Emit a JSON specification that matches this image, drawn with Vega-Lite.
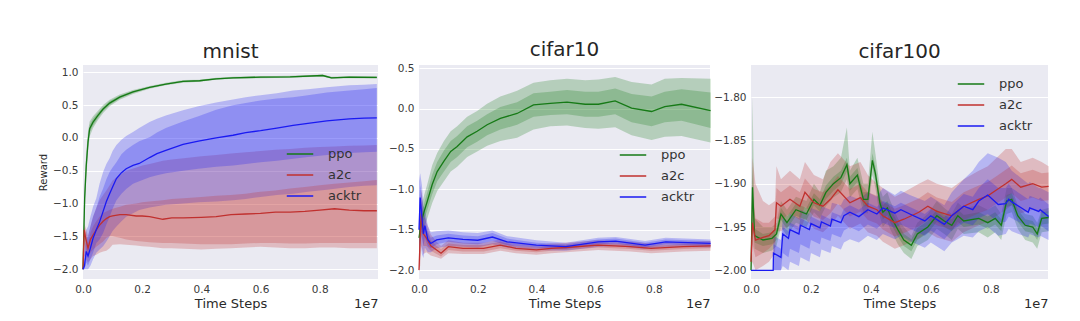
{
"$schema": "https://vega.github.io/schema/vega-lite/v6.json",
"padding": {"left": 38, "top": 40, "right": 0, "bottom": 0},
"config": {
  "font": "DejaVu Sans",
  "view": {"fill": "#EAEAF2", "stroke": null},
  "axis": {"domain": false, "ticks": false, "labelFlush": false, "gridColor": "#ffffff", "gridWidth": 1, "gridOpacity": 1, "labelFontSize": 10.5, "labelColor": "#3a3a3a", "labelPadding": 5, "titleFontWeight": "normal", "titleColor": "#2a2a2a", "titleFontSize": 13, "labelFont": "DejaVu Sans", "titleFont": "DejaVu Sans"},
  "title": {"fontSize": 20, "fontWeight": "normal", "color": "#262626", "baseline": "alphabetic", "offset": 3, "font": "DejaVu Sans"},
  "legend": {"symbolType": "stroke", "symbolStrokeWidth": 1.5, "symbolSize": 700, "labelFontSize": 13, "labelColor": "#333333", "labelFont": "DejaVu Sans", "rowPadding": -7, "labelOffset": 14, "padding": 0, "title": null}
},
"datasets": {"d": [
{"p":"m","a":"ppo","x":0,"y":-2,"l1":-2,"h1":-2,"l2":-2,"h2":-2},
{"p":"m","a":"ppo","x":0.003,"y":-1.4,"l1":-1.55,"h1":-1.25,"l2":-1.7,"h2":-1.1},
{"p":"m","a":"ppo","x":0.0056,"y":-0.92,"l1":-1.05,"h1":-0.8,"l2":-1.2,"h2":-0.65},
{"p":"m","a":"ppo","x":0.011,"y":-0.42,"l1":-0.52,"h1":-0.32,"l2":-0.62,"h2":-0.22},
{"p":"m","a":"ppo","x":0.017,"y":-0.06,"l1":-0.14,"h1":0.02,"l2":-0.22,"h2":0.1},
{"p":"m","a":"ppo","x":0.0225,"y":0.14,"l1":0.08,"h1":0.2,"l2":0.02,"h2":0.25},
{"p":"m","a":"ppo","x":0.034,"y":0.24,"l1":0.19,"h1":0.29,"l2":0.15,"h2":0.33},
{"p":"m","a":"ppo","x":0.05,"y":0.34,"l1":0.3,"h1":0.38,"l2":0.27,"h2":0.41},
{"p":"m","a":"ppo","x":0.068,"y":0.44,"l1":0.41,"h1":0.47,"l2":0.38,"h2":0.5},
{"p":"m","a":"ppo","x":0.09,"y":0.53,"l1":0.5,"h1":0.56,"l2":0.48,"h2":0.58},
{"p":"m","a":"ppo","x":0.124,"y":0.62,"l1":0.6,"h1":0.64,"l2":0.58,"h2":0.66},
{"p":"m","a":"ppo","x":0.169,"y":0.7,"l1":0.685,"h1":0.715,"l2":0.67,"h2":0.73},
{"p":"m","a":"ppo","x":0.225,"y":0.77,"l1":0.76,"h1":0.78,"l2":0.75,"h2":0.79},
{"p":"m","a":"ppo","x":0.28,"y":0.82,"l1":0.81,"h1":0.83,"l2":0.8,"h2":0.84},
{"p":"m","a":"ppo","x":0.338,"y":0.86,"l1":0.85,"h1":0.87,"l2":0.84,"h2":0.88},
{"p":"m","a":"ppo","x":0.394,"y":0.87,"l1":0.86,"h1":0.88,"l2":0.855,"h2":0.885},
{"p":"m","a":"ppo","x":0.45,"y":0.9,"l1":0.89,"h1":0.91,"l2":0.885,"h2":0.915},
{"p":"m","a":"ppo","x":0.507,"y":0.915,"l1":0.905,"h1":0.925,"l2":0.9,"h2":0.93},
{"p":"m","a":"ppo","x":0.6,"y":0.925,"l1":0.915,"h1":0.935,"l2":0.91,"h2":0.94},
{"p":"m","a":"ppo","x":0.7,"y":0.93,"l1":0.92,"h1":0.94,"l2":0.915,"h2":0.945},
{"p":"m","a":"ppo","x":0.81,"y":0.95,"l1":0.94,"h1":0.96,"l2":0.935,"h2":0.965},
{"p":"m","a":"ppo","x":0.84,"y":0.915,"l1":0.905,"h1":0.925,"l2":0.9,"h2":0.93},
{"p":"m","a":"ppo","x":0.9,"y":0.925,"l1":0.915,"h1":0.935,"l2":0.91,"h2":0.94},
{"p":"m","a":"ppo","x":0.993,"y":0.92,"l1":0.91,"h1":0.93,"l2":0.905,"h2":0.935},

{"p":"m","a":"a2c","x":0,"y":-2,"l1":-2,"h1":-2,"l2":-2,"h2":-2},
{"p":"m","a":"a2c","x":0.004,"y":-1.4,"l1":-1.6,"h1":-1.35,"l2":-1.8,"h2":-1.3},
{"p":"m","a":"a2c","x":0.01,"y":-1.55,"l1":-1.7,"h1":-1.45,"l2":-1.85,"h2":-1.38},
{"p":"m","a":"a2c","x":0.017,"y":-1.68,"l1":-1.8,"h1":-1.6,"l2":-1.9,"h2":-1.5},
{"p":"m","a":"a2c","x":0.025,"y":-1.55,"l1":-1.75,"h1":-1.45,"l2":-1.85,"h2":-1.35},
{"p":"m","a":"a2c","x":0.034,"y":-1.48,"l1":-1.7,"h1":-1.35,"l2":-1.8,"h2":-1.2},
{"p":"m","a":"a2c","x":0.045,"y":-1.4,"l1":-1.66,"h1":-1.27,"l2":-1.78,"h2":-1.07},
{"p":"m","a":"a2c","x":0.056,"y":-1.33,"l1":-1.62,"h1":-1.2,"l2":-1.75,"h2":-0.95},
{"p":"m","a":"a2c","x":0.068,"y":-1.27,"l1":-1.58,"h1":-1.15,"l2":-1.73,"h2":-0.87},
{"p":"m","a":"a2c","x":0.079,"y":-1.23,"l1":-1.52,"h1":-1.12,"l2":-1.72,"h2":-0.8},
{"p":"m","a":"a2c","x":0.09,"y":-1.2,"l1":-1.5,"h1":-1.1,"l2":-1.68,"h2":-0.72},
{"p":"m","a":"a2c","x":0.1,"y":-1.19,"l1":-1.5,"h1":-1.08,"l2":-1.63,"h2":-0.65},
{"p":"m","a":"a2c","x":0.125,"y":-1.17,"l1":-1.52,"h1":-1.05,"l2":-1.62,"h2":-0.56},
{"p":"m","a":"a2c","x":0.146,"y":-1.17,"l1":-1.55,"h1":-1.02,"l2":-1.63,"h2":-0.5},
{"p":"m","a":"a2c","x":0.18,"y":-1.19,"l1":-1.57,"h1":-1.0,"l2":-1.64,"h2":-0.45},
{"p":"m","a":"a2c","x":0.2,"y":-1.19,"l1":-1.58,"h1":-0.98,"l2":-1.65,"h2":-0.42},
{"p":"m","a":"a2c","x":0.225,"y":-1.2,"l1":-1.59,"h1":-0.97,"l2":-1.66,"h2":-0.4},
{"p":"m","a":"a2c","x":0.27,"y":-1.24,"l1":-1.6,"h1":-0.95,"l2":-1.68,"h2":-0.35},
{"p":"m","a":"a2c","x":0.3,"y":-1.22,"l1":-1.6,"h1":-0.93,"l2":-1.68,"h2":-0.33},
{"p":"m","a":"a2c","x":0.34,"y":-1.22,"l1":-1.61,"h1":-0.92,"l2":-1.69,"h2":-0.31},
{"p":"m","a":"a2c","x":0.4,"y":-1.21,"l1":-1.62,"h1":-0.9,"l2":-1.7,"h2":-0.28},
{"p":"m","a":"a2c","x":0.45,"y":-1.2,"l1":-1.62,"h1":-0.88,"l2":-1.69,"h2":-0.26},
{"p":"m","a":"a2c","x":0.5,"y":-1.17,"l1":-1.62,"h1":-0.87,"l2":-1.68,"h2":-0.24},
{"p":"m","a":"a2c","x":0.55,"y":-1.16,"l1":-1.61,"h1":-0.85,"l2":-1.67,"h2":-0.22},
{"p":"m","a":"a2c","x":0.6,"y":-1.15,"l1":-1.6,"h1":-0.82,"l2":-1.66,"h2":-0.2},
{"p":"m","a":"a2c","x":0.65,"y":-1.13,"l1":-1.6,"h1":-0.8,"l2":-1.67,"h2":-0.18},
{"p":"m","a":"a2c","x":0.7,"y":-1.13,"l1":-1.61,"h1":-0.77,"l2":-1.68,"h2":-0.17},
{"p":"m","a":"a2c","x":0.75,"y":-1.12,"l1":-1.61,"h1":-0.75,"l2":-1.68,"h2":-0.15},
{"p":"m","a":"a2c","x":0.8,"y":-1.1,"l1":-1.6,"h1":-0.72,"l2":-1.67,"h2":-0.14},
{"p":"m","a":"a2c","x":0.85,"y":-1.08,"l1":-1.6,"h1":-0.7,"l2":-1.67,"h2":-0.13},
{"p":"m","a":"a2c","x":0.9,"y":-1.1,"l1":-1.6,"h1":-0.68,"l2":-1.68,"h2":-0.12},
{"p":"m","a":"a2c","x":0.95,"y":-1.11,"l1":-1.6,"h1":-0.66,"l2":-1.68,"h2":-0.115},
{"p":"m","a":"a2c","x":0.993,"y":-1.11,"l1":-1.6,"h1":-0.64,"l2":-1.68,"h2":-0.11},

{"p":"m","a":"acktr","x":0,"y":-2,"l1":-2,"h1":-2,"l2":-2,"h2":-2},
{"p":"m","a":"acktr","x":0.005,"y":-1.95,"l1":-2,"h1":-1.85,"l2":-2,"h2":-1.7},
{"p":"m","a":"acktr","x":0.011,"y":-1.73,"l1":-1.9,"h1":-1.55,"l2":-2,"h2":-1.4},
{"p":"m","a":"acktr","x":0.017,"y":-1.8,"l1":-1.95,"h1":-1.5,"l2":-2,"h2":-1.35},
{"p":"m","a":"acktr","x":0.025,"y":-1.68,"l1":-1.85,"h1":-1.35,"l2":-1.95,"h2":-1.2},
{"p":"m","a":"acktr","x":0.034,"y":-1.53,"l1":-1.75,"h1":-1.2,"l2":-1.85,"h2":-1.05},
{"p":"m","a":"acktr","x":0.045,"y":-1.4,"l1":-1.6,"h1":-1.07,"l2":-1.75,"h2":-0.92},
{"p":"m","a":"acktr","x":0.056,"y":-1.28,"l1":-1.55,"h1":-0.9,"l2":-1.7,"h2":-0.7},
{"p":"m","a":"acktr","x":0.068,"y":-1.12,"l1":-1.45,"h1":-0.77,"l2":-1.65,"h2":-0.52},
{"p":"m","a":"acktr","x":0.079,"y":-0.97,"l1":-1.32,"h1":-0.63,"l2":-1.58,"h2":-0.4},
{"p":"m","a":"acktr","x":0.09,"y":-0.85,"l1":-1.2,"h1":-0.52,"l2":-1.5,"h2":-0.31},
{"p":"m","a":"acktr","x":0.1,"y":-0.75,"l1":-1.08,"h1":-0.45,"l2":-1.42,"h2":-0.2},
{"p":"m","a":"acktr","x":0.113,"y":-0.62,"l1":-0.95,"h1":-0.37,"l2":-1.35,"h2":-0.11},
{"p":"m","a":"acktr","x":0.13,"y":-0.53,"l1":-0.85,"h1":-0.25,"l2":-1.27,"h2":-0.03},
{"p":"m","a":"acktr","x":0.146,"y":-0.47,"l1":-0.78,"h1":-0.18,"l2":-1.2,"h2":0.03},
{"p":"m","a":"acktr","x":0.169,"y":-0.42,"l1":-0.7,"h1":-0.11,"l2":-1.15,"h2":0.09},
{"p":"m","a":"acktr","x":0.19,"y":-0.39,"l1":-0.66,"h1":-0.05,"l2":-1.1,"h2":0.15},
{"p":"m","a":"acktr","x":0.225,"y":-0.3,"l1":-0.6,"h1":0.01,"l2":-1.06,"h2":0.24},
{"p":"m","a":"acktr","x":0.25,"y":-0.24,"l1":-0.57,"h1":0.08,"l2":-1.04,"h2":0.29},
{"p":"m","a":"acktr","x":0.28,"y":-0.19,"l1":-0.54,"h1":0.15,"l2":-1.02,"h2":0.34},
{"p":"m","a":"acktr","x":0.338,"y":-0.1,"l1":-0.5,"h1":0.25,"l2":-1.0,"h2":0.42},
{"p":"m","a":"acktr","x":0.39,"y":-0.05,"l1":-0.47,"h1":0.33,"l2":-0.98,"h2":0.48},
{"p":"m","a":"acktr","x":0.45,"y":0.0,"l1":-0.44,"h1":0.43,"l2":-0.97,"h2":0.54},
{"p":"m","a":"acktr","x":0.507,"y":0.04,"l1":-0.42,"h1":0.495,"l2":-0.95,"h2":0.585},
{"p":"m","a":"acktr","x":0.55,"y":0.08,"l1":-0.4,"h1":0.53,"l2":-0.93,"h2":0.62},
{"p":"m","a":"acktr","x":0.6,"y":0.11,"l1":-0.37,"h1":0.57,"l2":-0.9,"h2":0.65},
{"p":"m","a":"acktr","x":0.655,"y":0.15,"l1":-0.35,"h1":0.6,"l2":-0.87,"h2":0.68},
{"p":"m","a":"acktr","x":0.71,"y":0.19,"l1":-0.32,"h1":0.62,"l2":-0.85,"h2":0.72},
{"p":"m","a":"acktr","x":0.76,"y":0.22,"l1":-0.29,"h1":0.65,"l2":-0.82,"h2":0.74},
{"p":"m","a":"acktr","x":0.824,"y":0.26,"l1":-0.26,"h1":0.69,"l2":-0.79,"h2":0.77},
{"p":"m","a":"acktr","x":0.9,"y":0.29,"l1":-0.23,"h1":0.72,"l2":-0.75,"h2":0.8},
{"p":"m","a":"acktr","x":0.95,"y":0.3,"l1":-0.22,"h1":0.74,"l2":-0.73,"h2":0.81},
{"p":"m","a":"acktr","x":0.993,"y":0.305,"l1":-0.21,"h1":0.76,"l2":-0.72,"h2":0.82},

{"p":"c10","a":"ppo","x":0,"y":-1.6,"l1":-1.7,"h1":-1.5,"l2":-1.8,"h2":-1.4},
{"p":"c10","a":"ppo","x":0.008,"y":-1.4,"l1":-1.5,"h1":-1.3,"l2":-1.6,"h2":-1.2},
{"p":"c10","a":"ppo","x":0.017,"y":-1.28,"l1":-1.38,"h1":-1.18,"l2":-1.48,"h2":-1.08},
{"p":"c10","a":"ppo","x":0.028,"y":-1.15,"l1":-1.26,"h1":-1.04,"l2":-1.36,"h2":-0.94},
{"p":"c10","a":"ppo","x":0.045,"y":-0.94,"l1":-1.06,"h1":-0.82,"l2":-1.17,"h2":-0.7},
{"p":"c10","a":"ppo","x":0.062,"y":-0.78,"l1":-0.9,"h1":-0.66,"l2":-1.02,"h2":-0.55},
{"p":"c10","a":"ppo","x":0.085,"y":-0.65,"l1":-0.78,"h1":-0.52,"l2":-0.9,"h2":-0.4},
{"p":"c10","a":"ppo","x":0.108,"y":-0.53,"l1":-0.66,"h1":-0.4,"l2":-0.78,"h2":-0.28},
{"p":"c10","a":"ppo","x":0.13,"y":-0.47,"l1":-0.6,"h1":-0.34,"l2":-0.72,"h2":-0.22},
{"p":"c10","a":"ppo","x":0.164,"y":-0.35,"l1":-0.48,"h1":-0.22,"l2":-0.6,"h2":-0.1},
{"p":"c10","a":"ppo","x":0.198,"y":-0.28,"l1":-0.41,"h1":-0.15,"l2":-0.53,"h2":-0.03},
{"p":"c10","a":"ppo","x":0.232,"y":-0.2,"l1":-0.33,"h1":-0.07,"l2":-0.46,"h2":0.06},
{"p":"c10","a":"ppo","x":0.277,"y":-0.12,"l1":-0.26,"h1":0.02,"l2":-0.4,"h2":0.15},
{"p":"c10","a":"ppo","x":0.334,"y":-0.06,"l1":-0.2,"h1":0.08,"l2":-0.36,"h2":0.22},
{"p":"c10","a":"ppo","x":0.39,"y":0.046,"l1":-0.1,"h1":0.19,"l2":-0.26,"h2":0.32},
{"p":"c10","a":"ppo","x":0.447,"y":0.066,"l1":-0.08,"h1":0.21,"l2":-0.22,"h2":0.35},
{"p":"c10","a":"ppo","x":0.504,"y":0.08,"l1":-0.07,"h1":0.23,"l2":-0.21,"h2":0.37},
{"p":"c10","a":"ppo","x":0.566,"y":0.054,"l1":-0.1,"h1":0.21,"l2":-0.24,"h2":0.35},
{"p":"c10","a":"ppo","x":0.611,"y":0.054,"l1":-0.1,"h1":0.21,"l2":-0.25,"h2":0.36},
{"p":"c10","a":"ppo","x":0.668,"y":0.095,"l1":-0.07,"h1":0.25,"l2":-0.23,"h2":0.39},
{"p":"c10","a":"ppo","x":0.724,"y":0.005,"l1":-0.17,"h1":0.18,"l2":-0.33,"h2":0.33},
{"p":"c10","a":"ppo","x":0.792,"y":-0.036,"l1":-0.22,"h1":0.15,"l2":-0.39,"h2":0.3},
{"p":"c10","a":"ppo","x":0.837,"y":0.025,"l1":-0.17,"h1":0.21,"l2":-0.35,"h2":0.37},
{"p":"c10","a":"ppo","x":0.894,"y":0.054,"l1":-0.15,"h1":0.24,"l2":-0.34,"h2":0.38},
{"p":"c10","a":"ppo","x":0.993,"y":-0.024,"l1":-0.24,"h1":0.2,"l2":-0.42,"h2":0.37},

{"p":"c10","a":"a2c","x":0,"y":-2,"l1":-2,"h1":-1.7,"l2":-2,"h2":-1.5},
{"p":"c10","a":"a2c","x":0.004,"y":-1.6,"l1":-1.8,"h1":-1.4,"l2":-1.95,"h2":-1.2},
{"p":"c10","a":"a2c","x":0.008,"y":-1.3,"l1":-1.5,"h1":-1.15,"l2":-1.7,"h2":-1.0},
{"p":"c10","a":"a2c","x":0.015,"y":-1.55,"l1":-1.7,"h1":-1.4,"l2":-1.8,"h2":-1.25},
{"p":"c10","a":"a2c","x":0.025,"y":-1.6,"l1":-1.7,"h1":-1.5,"l2":-1.78,"h2":-1.4},
{"p":"c10","a":"a2c","x":0.04,"y":-1.7,"l1":-1.76,"h1":-1.63,"l2":-1.82,"h2":-1.56},
{"p":"c10","a":"a2c","x":0.06,"y":-1.75,"l1":-1.8,"h1":-1.7,"l2":-1.84,"h2":-1.65},
{"p":"c10","a":"a2c","x":0.075,"y":-1.79,"l1":-1.83,"h1":-1.74,"l2":-1.86,"h2":-1.7},
{"p":"c10","a":"a2c","x":0.1,"y":-1.71,"l1":-1.75,"h1":-1.67,"l2":-1.79,"h2":-1.63},
{"p":"c10","a":"a2c","x":0.15,"y":-1.73,"l1":-1.77,"h1":-1.69,"l2":-1.8,"h2":-1.66},
{"p":"c10","a":"a2c","x":0.22,"y":-1.73,"l1":-1.77,"h1":-1.69,"l2":-1.8,"h2":-1.66},
{"p":"c10","a":"a2c","x":0.277,"y":-1.69,"l1":-1.73,"h1":-1.65,"l2":-1.76,"h2":-1.62},
{"p":"c10","a":"a2c","x":0.33,"y":-1.73,"l1":-1.76,"h1":-1.7,"l2":-1.79,"h2":-1.67},
{"p":"c10","a":"a2c","x":0.4,"y":-1.75,"l1":-1.78,"h1":-1.72,"l2":-1.81,"h2":-1.69},
{"p":"c10","a":"a2c","x":0.45,"y":-1.73,"l1":-1.76,"h1":-1.7,"l2":-1.79,"h2":-1.67},
{"p":"c10","a":"a2c","x":0.5,"y":-1.72,"l1":-1.75,"h1":-1.69,"l2":-1.78,"h2":-1.66},
{"p":"c10","a":"a2c","x":0.61,"y":-1.69,"l1":-1.72,"h1":-1.66,"l2":-1.75,"h2":-1.63},
{"p":"c10","a":"a2c","x":0.72,"y":-1.71,"l1":-1.74,"h1":-1.68,"l2":-1.77,"h2":-1.65},
{"p":"c10","a":"a2c","x":0.79,"y":-1.73,"l1":-1.76,"h1":-1.7,"l2":-1.79,"h2":-1.67},
{"p":"c10","a":"a2c","x":0.9,"y":-1.71,"l1":-1.74,"h1":-1.68,"l2":-1.77,"h2":-1.65},
{"p":"c10","a":"a2c","x":0.993,"y":-1.7,"l1":-1.73,"h1":-1.67,"l2":-1.76,"h2":-1.64},

{"p":"c10","a":"acktr","x":0,"y":-1.5,"l1":-1.7,"h1":-1.2,"l2":-1.9,"h2":-0.9},
{"p":"c10","a":"acktr","x":0.004,"y":-1.1,"l1":-1.4,"h1":-0.95,"l2":-1.6,"h2":-0.8},
{"p":"c10","a":"acktr","x":0.01,"y":-1.35,"l1":-1.6,"h1":-1.1,"l2":-1.8,"h2":-0.95},
{"p":"c10","a":"acktr","x":0.015,"y":-1.55,"l1":-1.7,"h1":-1.35,"l2":-1.85,"h2":-1.2},
{"p":"c10","a":"acktr","x":0.02,"y":-1.45,"l1":-1.6,"h1":-1.35,"l2":-1.72,"h2":-1.25},
{"p":"c10","a":"acktr","x":0.03,"y":-1.62,"l1":-1.7,"h1":-1.52,"l2":-1.78,"h2":-1.45},
{"p":"c10","a":"acktr","x":0.04,"y":-1.67,"l1":-1.73,"h1":-1.6,"l2":-1.78,"h2":-1.53},
{"p":"c10","a":"acktr","x":0.06,"y":-1.625,"l1":-1.68,"h1":-1.57,"l2":-1.73,"h2":-1.52},
{"p":"c10","a":"acktr","x":0.1,"y":-1.6,"l1":-1.65,"h1":-1.55,"l2":-1.7,"h2":-1.51},
{"p":"c10","a":"acktr","x":0.15,"y":-1.62,"l1":-1.67,"h1":-1.57,"l2":-1.71,"h2":-1.53},
{"p":"c10","a":"acktr","x":0.2,"y":-1.63,"l1":-1.68,"h1":-1.58,"l2":-1.72,"h2":-1.54},
{"p":"c10","a":"acktr","x":0.25,"y":-1.59,"l1":-1.64,"h1":-1.54,"l2":-1.68,"h2":-1.51},
{"p":"c10","a":"acktr","x":0.3,"y":-1.65,"l1":-1.69,"h1":-1.61,"l2":-1.72,"h2":-1.58},
{"p":"c10","a":"acktr","x":0.4,"y":-1.69,"l1":-1.72,"h1":-1.66,"l2":-1.75,"h2":-1.63},
{"p":"c10","a":"acktr","x":0.5,"y":-1.71,"l1":-1.74,"h1":-1.68,"l2":-1.76,"h2":-1.66},
{"p":"c10","a":"acktr","x":0.61,"y":-1.65,"l1":-1.68,"h1":-1.62,"l2":-1.71,"h2":-1.6},
{"p":"c10","a":"acktr","x":0.67,"y":-1.64,"l1":-1.67,"h1":-1.61,"l2":-1.7,"h2":-1.59},
{"p":"c10","a":"acktr","x":0.77,"y":-1.69,"l1":-1.72,"h1":-1.66,"l2":-1.74,"h2":-1.64},
{"p":"c10","a":"acktr","x":0.84,"y":-1.65,"l1":-1.68,"h1":-1.62,"l2":-1.71,"h2":-1.6},
{"p":"c10","a":"acktr","x":0.993,"y":-1.67,"l1":-1.7,"h1":-1.64,"l2":-1.72,"h2":-1.62},

{"p":"c100","a":"ppo","x":0,"y":-2,"l1":-2,"h1":-2,"l2":-2,"h2":-2},
{"p":"c100","a":"ppo","x":0.005,"y":-1.904,"l1":-1.92,"h1":-1.88,"l2":-1.94,"h2":-1.8},
{"p":"c100","a":"ppo","x":0.012,"y":-1.96,"l1":-1.968,"h1":-1.952,"l2":-1.975,"h2":-1.94},
{"p":"c100","a":"ppo","x":0.04,"y":-1.965,"l1":-1.972,"h1":-1.958,"l2":-1.98,"h2":-1.95},
{"p":"c100","a":"ppo","x":0.07,"y":-1.963,"l1":-1.97,"h1":-1.956,"l2":-1.977,"h2":-1.95},
{"p":"c100","a":"ppo","x":0.085,"y":-1.958,"l1":-1.965,"h1":-1.951,"l2":-1.972,"h2":-1.945},
{"p":"c100","a":"ppo","x":0.1,"y":-1.935,"l1":-1.942,"h1":-1.928,"l2":-1.95,"h2":-1.92},
{"p":"c100","a":"ppo","x":0.12,"y":-1.945,"l1":-1.952,"h1":-1.938,"l2":-1.96,"h2":-1.93},
{"p":"c100","a":"ppo","x":0.15,"y":-1.93,"l1":-1.937,"h1":-1.923,"l2":-1.945,"h2":-1.915},
{"p":"c100","a":"ppo","x":0.185,"y":-1.935,"l1":-1.942,"h1":-1.928,"l2":-1.95,"h2":-1.92},
{"p":"c100","a":"ppo","x":0.21,"y":-1.918,"l1":-1.925,"h1":-1.911,"l2":-1.933,"h2":-1.9},
{"p":"c100","a":"ppo","x":0.23,"y":-1.925,"l1":-1.932,"h1":-1.918,"l2":-1.94,"h2":-1.91},
{"p":"c100","a":"ppo","x":0.25,"y":-1.91,"l1":-1.918,"h1":-1.902,"l2":-1.926,"h2":-1.885},
{"p":"c100","a":"ppo","x":0.275,"y":-1.9,"l1":-1.908,"h1":-1.892,"l2":-1.916,"h2":-1.88},
{"p":"c100","a":"ppo","x":0.3,"y":-1.893,"l1":-1.901,"h1":-1.885,"l2":-1.91,"h2":-1.87},
{"p":"c100","a":"ppo","x":0.32,"y":-1.878,"l1":-1.886,"h1":-1.87,"l2":-1.895,"h2":-1.835},
{"p":"c100","a":"ppo","x":0.33,"y":-1.9,"l1":-1.908,"h1":-1.892,"l2":-1.916,"h2":-1.885},
{"p":"c100","a":"ppo","x":0.355,"y":-1.89,"l1":-1.898,"h1":-1.882,"l2":-1.906,"h2":-1.87},
{"p":"c100","a":"ppo","x":0.375,"y":-1.918,"l1":-1.926,"h1":-1.91,"l2":-1.934,"h2":-1.9},
{"p":"c100","a":"ppo","x":0.39,"y":-1.918,"l1":-1.926,"h1":-1.91,"l2":-1.934,"h2":-1.9},
{"p":"c100","a":"ppo","x":0.405,"y":-1.873,"l1":-1.881,"h1":-1.865,"l2":-1.89,"h2":-1.84},
{"p":"c100","a":"ppo","x":0.415,"y":-1.888,"l1":-1.896,"h1":-1.88,"l2":-1.905,"h2":-1.865},
{"p":"c100","a":"ppo","x":0.43,"y":-1.922,"l1":-1.93,"h1":-1.914,"l2":-1.938,"h2":-1.905},
{"p":"c100","a":"ppo","x":0.44,"y":-1.933,"l1":-1.941,"h1":-1.925,"l2":-1.95,"h2":-1.915},
{"p":"c100","a":"ppo","x":0.455,"y":-1.928,"l1":-1.936,"h1":-1.92,"l2":-1.944,"h2":-1.91},
{"p":"c100","a":"ppo","x":0.465,"y":-1.937,"l1":-1.945,"h1":-1.929,"l2":-1.953,"h2":-1.92},
{"p":"c100","a":"ppo","x":0.49,"y":-1.953,"l1":-1.961,"h1":-1.945,"l2":-1.97,"h2":-1.94},
{"p":"c100","a":"ppo","x":0.51,"y":-1.965,"l1":-1.972,"h1":-1.958,"l2":-1.98,"h2":-1.95},
{"p":"c100","a":"ppo","x":0.535,"y":-1.971,"l1":-1.978,"h1":-1.964,"l2":-1.987,"h2":-1.96},
{"p":"c100","a":"ppo","x":0.555,"y":-1.958,"l1":-1.965,"h1":-1.951,"l2":-1.972,"h2":-1.945},
{"p":"c100","a":"ppo","x":0.59,"y":-1.95,"l1":-1.957,"h1":-1.943,"l2":-1.965,"h2":-1.935},
{"p":"c100","a":"ppo","x":0.62,"y":-1.937,"l1":-1.944,"h1":-1.93,"l2":-1.952,"h2":-1.92},
{"p":"c100","a":"ppo","x":0.645,"y":-1.943,"l1":-1.95,"h1":-1.936,"l2":-1.958,"h2":-1.928},
{"p":"c100","a":"ppo","x":0.67,"y":-1.948,"l1":-1.955,"h1":-1.941,"l2":-1.965,"h2":-1.935},
{"p":"c100","a":"ppo","x":0.69,"y":-1.937,"l1":-1.944,"h1":-1.93,"l2":-1.952,"h2":-1.922},
{"p":"c100","a":"ppo","x":0.71,"y":-1.943,"l1":-1.95,"h1":-1.936,"l2":-1.958,"h2":-1.928},
{"p":"c100","a":"ppo","x":0.76,"y":-1.94,"l1":-1.947,"h1":-1.933,"l2":-1.956,"h2":-1.925},
{"p":"c100","a":"ppo","x":0.79,"y":-1.945,"l1":-1.952,"h1":-1.938,"l2":-1.962,"h2":-1.93},
{"p":"c100","a":"ppo","x":0.815,"y":-1.94,"l1":-1.947,"h1":-1.933,"l2":-1.956,"h2":-1.925},
{"p":"c100","a":"ppo","x":0.835,"y":-1.948,"l1":-1.955,"h1":-1.941,"l2":-1.965,"h2":-1.935},
{"p":"c100","a":"ppo","x":0.853,"y":-1.92,"l1":-1.927,"h1":-1.913,"l2":-1.935,"h2":-1.905},
{"p":"c100","a":"ppo","x":0.87,"y":-1.918,"l1":-1.925,"h1":-1.911,"l2":-1.933,"h2":-1.905},
{"p":"c100","a":"ppo","x":0.89,"y":-1.937,"l1":-1.944,"h1":-1.93,"l2":-1.952,"h2":-1.925},
{"p":"c100","a":"ppo","x":0.915,"y":-1.948,"l1":-1.955,"h1":-1.941,"l2":-1.965,"h2":-1.935},
{"p":"c100","a":"ppo","x":0.94,"y":-1.95,"l1":-1.957,"h1":-1.943,"l2":-1.968,"h2":-1.937},
{"p":"c100","a":"ppo","x":0.955,"y":-1.958,"l1":-1.965,"h1":-1.951,"l2":-1.975,"h2":-1.945},
{"p":"c100","a":"ppo","x":0.97,"y":-1.94,"l1":-1.947,"h1":-1.933,"l2":-1.956,"h2":-1.93},
{"p":"c100","a":"ppo","x":0.993,"y":-1.939,"l1":-1.946,"h1":-1.932,"l2":-1.955,"h2":-1.928},

{"p":"c100","a":"a2c","x":0,"y":-1.99,"l1":-2,"h1":-1.97,"l2":-2,"h2":-1.95},
{"p":"c100","a":"a2c","x":0.005,"y":-1.945,"l1":-1.97,"h1":-1.91,"l2":-1.99,"h2":-1.87},
{"p":"c100","a":"a2c","x":0.015,"y":-1.965,"l1":-1.985,"h1":-1.94,"l2":-2,"h2":-1.9},
{"p":"c100","a":"a2c","x":0.04,"y":-1.962,"l1":-1.98,"h1":-1.945,"l2":-1.995,"h2":-1.92},
{"p":"c100","a":"a2c","x":0.06,"y":-1.96,"l1":-1.975,"h1":-1.945,"l2":-1.99,"h2":-1.925},
{"p":"c100","a":"a2c","x":0.08,"y":-1.953,"l1":-1.968,"h1":-1.938,"l2":-1.98,"h2":-1.92},
{"p":"c100","a":"a2c","x":0.085,"y":-1.922,"l1":-1.94,"h1":-1.905,"l2":-1.955,"h2":-1.88},
{"p":"c100","a":"a2c","x":0.1,"y":-1.926,"l1":-1.942,"h1":-1.91,"l2":-1.955,"h2":-1.895},
{"p":"c100","a":"a2c","x":0.13,"y":-1.918,"l1":-1.934,"h1":-1.902,"l2":-1.948,"h2":-1.885},
{"p":"c100","a":"a2c","x":0.163,"y":-1.926,"l1":-1.942,"h1":-1.91,"l2":-1.955,"h2":-1.895},
{"p":"c100","a":"a2c","x":0.18,"y":-1.91,"l1":-1.926,"h1":-1.894,"l2":-1.94,"h2":-1.875},
{"p":"c100","a":"a2c","x":0.21,"y":-1.922,"l1":-1.938,"h1":-1.906,"l2":-1.952,"h2":-1.89},
{"p":"c100","a":"a2c","x":0.24,"y":-1.926,"l1":-1.942,"h1":-1.91,"l2":-1.956,"h2":-1.895},
{"p":"c100","a":"a2c","x":0.265,"y":-1.918,"l1":-1.934,"h1":-1.902,"l2":-1.948,"h2":-1.875},
{"p":"c100","a":"a2c","x":0.29,"y":-1.907,"l1":-1.923,"h1":-1.891,"l2":-1.937,"h2":-1.865},
{"p":"c100","a":"a2c","x":0.33,"y":-1.922,"l1":-1.938,"h1":-1.906,"l2":-1.952,"h2":-1.88},
{"p":"c100","a":"a2c","x":0.365,"y":-1.916,"l1":-1.932,"h1":-1.9,"l2":-1.946,"h2":-1.875},
{"p":"c100","a":"a2c","x":0.39,"y":-1.926,"l1":-1.942,"h1":-1.91,"l2":-1.956,"h2":-1.89},
{"p":"c100","a":"a2c","x":0.42,"y":-1.93,"l1":-1.946,"h1":-1.914,"l2":-1.96,"h2":-1.9},
{"p":"c100","a":"a2c","x":0.44,"y":-1.937,"l1":-1.953,"h1":-1.921,"l2":-1.967,"h2":-1.905},
{"p":"c100","a":"a2c","x":0.48,"y":-1.945,"l1":-1.961,"h1":-1.929,"l2":-1.975,"h2":-1.915},
{"p":"c100","a":"a2c","x":0.51,"y":-1.941,"l1":-1.957,"h1":-1.925,"l2":-1.971,"h2":-1.91},
{"p":"c100","a":"a2c","x":0.56,"y":-1.933,"l1":-1.949,"h1":-1.917,"l2":-1.963,"h2":-1.9},
{"p":"c100","a":"a2c","x":0.59,"y":-1.926,"l1":-1.942,"h1":-1.91,"l2":-1.956,"h2":-1.895},
{"p":"c100","a":"a2c","x":0.62,"y":-1.932,"l1":-1.948,"h1":-1.916,"l2":-1.962,"h2":-1.9},
{"p":"c100","a":"a2c","x":0.67,"y":-1.937,"l1":-1.953,"h1":-1.921,"l2":-1.967,"h2":-1.905},
{"p":"c100","a":"a2c","x":0.71,"y":-1.926,"l1":-1.942,"h1":-1.91,"l2":-1.956,"h2":-1.895},
{"p":"c100","a":"a2c","x":0.76,"y":-1.918,"l1":-1.934,"h1":-1.902,"l2":-1.948,"h2":-1.885},
{"p":"c100","a":"a2c","x":0.79,"y":-1.914,"l1":-1.93,"h1":-1.898,"l2":-1.944,"h2":-1.88},
{"p":"c100","a":"a2c","x":0.82,"y":-1.907,"l1":-1.923,"h1":-1.891,"l2":-1.937,"h2":-1.87},
{"p":"c100","a":"a2c","x":0.85,"y":-1.9,"l1":-1.916,"h1":-1.884,"l2":-1.93,"h2":-1.86},
{"p":"c100","a":"a2c","x":0.87,"y":-1.895,"l1":-1.911,"h1":-1.879,"l2":-1.925,"h2":-1.86},
{"p":"c100","a":"a2c","x":0.9,"y":-1.904,"l1":-1.92,"h1":-1.888,"l2":-1.934,"h2":-1.875},
{"p":"c100","a":"a2c","x":0.94,"y":-1.9,"l1":-1.916,"h1":-1.884,"l2":-1.93,"h2":-1.87},
{"p":"c100","a":"a2c","x":0.97,"y":-1.904,"l1":-1.92,"h1":-1.888,"l2":-1.934,"h2":-1.875},
{"p":"c100","a":"a2c","x":0.993,"y":-1.903,"l1":-1.919,"h1":-1.887,"l2":-1.933,"h2":-1.88},

{"p":"c100","a":"acktr","x":0,"y":-2,"l1":-2,"h1":-2,"l2":-2,"h2":-2},
{"p":"c100","a":"acktr","x":0.074,"y":-2,"l1":-2,"h1":-2,"l2":-2,"h2":-2},
{"p":"c100","a":"acktr","x":0.075,"y":-1.98,"l1":-2,"h1":-1.97,"l2":-2,"h2":-1.96},
{"p":"c100","a":"acktr","x":0.1,"y":-1.985,"l1":-2,"h1":-1.975,"l2":-2,"h2":-1.965},
{"p":"c100","a":"acktr","x":0.106,"y":-1.958,"l1":-1.98,"h1":-1.95,"l2":-1.995,"h2":-1.94},
{"p":"c100","a":"acktr","x":0.125,"y":-1.963,"l1":-1.985,"h1":-1.955,"l2":-2,"h2":-1.945},
{"p":"c100","a":"acktr","x":0.13,"y":-1.953,"l1":-1.975,"h1":-1.945,"l2":-1.99,"h2":-1.935},
{"p":"c100","a":"acktr","x":0.16,"y":-1.958,"l1":-1.98,"h1":-1.95,"l2":-1.995,"h2":-1.94},
{"p":"c100","a":"acktr","x":0.165,"y":-1.948,"l1":-1.97,"h1":-1.94,"l2":-1.985,"h2":-1.93},
{"p":"c100","a":"acktr","x":0.195,"y":-1.953,"l1":-1.975,"h1":-1.945,"l2":-1.99,"h2":-1.935},
{"p":"c100","a":"acktr","x":0.2,"y":-1.946,"l1":-1.965,"h1":-1.938,"l2":-1.98,"h2":-1.928},
{"p":"c100","a":"acktr","x":0.23,"y":-1.951,"l1":-1.97,"h1":-1.943,"l2":-1.985,"h2":-1.932},
{"p":"c100","a":"acktr","x":0.235,"y":-1.944,"l1":-1.962,"h1":-1.936,"l2":-1.976,"h2":-1.926},
{"p":"c100","a":"acktr","x":0.265,"y":-1.949,"l1":-1.966,"h1":-1.941,"l2":-1.98,"h2":-1.93},
{"p":"c100","a":"acktr","x":0.27,"y":-1.941,"l1":-1.958,"h1":-1.933,"l2":-1.972,"h2":-1.922},
{"p":"c100","a":"acktr","x":0.3,"y":-1.945,"l1":-1.962,"h1":-1.937,"l2":-1.976,"h2":-1.925},
{"p":"c100","a":"acktr","x":0.31,"y":-1.937,"l1":-1.954,"h1":-1.929,"l2":-1.968,"h2":-1.918},
{"p":"c100","a":"acktr","x":0.33,"y":-1.933,"l1":-1.95,"h1":-1.925,"l2":-1.964,"h2":-1.914},
{"p":"c100","a":"acktr","x":0.36,"y":-1.938,"l1":-1.955,"h1":-1.93,"l2":-1.968,"h2":-1.918},
{"p":"c100","a":"acktr","x":0.39,"y":-1.93,"l1":-1.947,"h1":-1.922,"l2":-1.96,"h2":-1.91},
{"p":"c100","a":"acktr","x":0.42,"y":-1.935,"l1":-1.952,"h1":-1.927,"l2":-1.965,"h2":-1.915},
{"p":"c100","a":"acktr","x":0.44,"y":-1.928,"l1":-1.945,"h1":-1.92,"l2":-1.958,"h2":-1.905},
{"p":"c100","a":"acktr","x":0.48,"y":-1.934,"l1":-1.951,"h1":-1.926,"l2":-1.964,"h2":-1.913},
{"p":"c100","a":"acktr","x":0.5,"y":-1.93,"l1":-1.947,"h1":-1.922,"l2":-1.96,"h2":-1.908},
{"p":"c100","a":"acktr","x":0.53,"y":-1.935,"l1":-1.952,"h1":-1.927,"l2":-1.966,"h2":-1.913},
{"p":"c100","a":"acktr","x":0.58,"y":-1.943,"l1":-1.96,"h1":-1.935,"l2":-1.974,"h2":-1.92},
{"p":"c100","a":"acktr","x":0.6,"y":-1.937,"l1":-1.954,"h1":-1.929,"l2":-1.968,"h2":-1.915},
{"p":"c100","a":"acktr","x":0.645,"y":-1.947,"l1":-1.964,"h1":-1.939,"l2":-1.978,"h2":-1.925},
{"p":"c100","a":"acktr","x":0.67,"y":-1.937,"l1":-1.954,"h1":-1.925,"l2":-1.968,"h2":-1.91},
{"p":"c100","a":"acktr","x":0.71,"y":-1.926,"l1":-1.945,"h1":-1.912,"l2":-1.96,"h2":-1.895},
{"p":"c100","a":"acktr","x":0.74,"y":-1.93,"l1":-1.948,"h1":-1.915,"l2":-1.962,"h2":-1.885},
{"p":"c100","a":"acktr","x":0.76,"y":-1.92,"l1":-1.94,"h1":-1.905,"l2":-1.955,"h2":-1.875},
{"p":"c100","a":"acktr","x":0.79,"y":-1.913,"l1":-1.935,"h1":-1.895,"l2":-1.95,"h2":-1.865},
{"p":"c100","a":"acktr","x":0.825,"y":-1.924,"l1":-1.945,"h1":-1.905,"l2":-1.96,"h2":-1.87},
{"p":"c100","a":"acktr","x":0.85,"y":-1.923,"l1":-1.944,"h1":-1.905,"l2":-1.958,"h2":-1.875},
{"p":"c100","a":"acktr","x":0.86,"y":-1.918,"l1":-1.938,"h1":-1.9,"l2":-1.952,"h2":-1.88},
{"p":"c100","a":"acktr","x":0.87,"y":-1.921,"l1":-1.94,"h1":-1.905,"l2":-1.955,"h2":-1.885},
{"p":"c100","a":"acktr","x":0.925,"y":-1.933,"l1":-1.95,"h1":-1.918,"l2":-1.962,"h2":-1.9},
{"p":"c100","a":"acktr","x":0.93,"y":-1.928,"l1":-1.946,"h1":-1.914,"l2":-1.958,"h2":-1.898},
{"p":"c100","a":"acktr","x":0.96,"y":-1.932,"l1":-1.95,"h1":-1.918,"l2":-1.962,"h2":-1.905},
{"p":"c100","a":"acktr","x":0.965,"y":-1.93,"l1":-1.948,"h1":-1.916,"l2":-1.96,"h2":-1.905},
{"p":"c100","a":"acktr","x":0.993,"y":-1.938,"l1":-1.955,"h1":-1.924,"l2":-1.965,"h2":-1.91}
]},
"spacing": 41,
"bounds": "flush",
"resolve": {"scale": {"color": "independent"}, "legend": {"color": "independent"}},
"hconcat": [
   {
    "width": 295, "height": 214,
    "title": "mnist",
    "data": {"name": "d"},
    "transform": [{"filter": "datum.p == 'm'"}],
    "resolve": {"axis": {"x": "independent"}, "legend": {"color": "independent"}},
    "layer": [
     {"mark": {"type": "area", "opacity": 0.25},
      "encoding": {
       "x": {"field": "x", "type": "quantitative", "scale": {"domain": [0, 0.997], "nice": false, "zero": false}, "axis": null},
       "y": {"field": "l2", "type": "quantitative", "stack": null, "scale": {"domain": [-2.15, 1.11], "nice": false, "zero": false}, "axis": {"title": "Reward", "values": [-2, -1.5, -1, -0.5, 0, 0.5, 1], "format": ".1f", "titleFontSize": 10, "titlePadding": 4}},
       "y2": {"field": "h2"},
       "color": {"field": "a", "type": "nominal", "scale": {"domain": ["ppo", "a2c", "acktr"], "range": ["#167a16", "#c0302e", "#1a1af2"]}, "legend": null}}},
     {"mark": {"type": "area", "opacity": 0.25},
      "encoding": {
       "x": {"field": "x", "type": "quantitative", "axis": null},
       "y": {"field": "l1", "type": "quantitative", "stack": null, "axis": {"title": "Reward", "values": [-2, -1.5, -1, -0.5, 0, 0.5, 1], "format": ".1f", "titleFontSize": 10, "titlePadding": 4}},
       "y2": {"field": "h1"},
       "color": {"field": "a", "type": "nominal", "legend": null}}},
     {"mark": {"type": "line", "strokeWidth": 1.3},
      "encoding": {
       "x": {"field": "x", "type": "quantitative", "axis": {"title": "Time Steps", "values": [0, 0.2, 0.4, 0.6, 0.8], "format": ".1f", "titleY": 28, "titleBaseline": "alphabetic"}},
       "y": {"field": "y", "type": "quantitative", "axis": {"title": "Reward", "values": [-2, -1.5, -1, -0.5, 0, 0.5, 1], "format": ".1f", "titleFontSize": 10, "titlePadding": 4}},
       "color": {"field": "a", "type": "nominal", "legend": {"orient": "none", "legendX": 203, "legendY": 75}}}},
     {"mark": {"type": "line", "strokeOpacity": 0},
      "encoding": {
       "x": {"field": "x", "type": "quantitative", "axis": {"orient": "bottom", "title": "1e7", "labels": false, "grid": false, "titleX": 295, "titleY": 28, "titleAlign": "right", "titleBaseline": "alphabetic"}},
       "y": {"field": "y", "type": "quantitative", "axis": {"title": "Reward", "values": [-2, -1.5, -1, -0.5, 0, 0.5, 1], "format": ".1f", "titleFontSize": 10, "titlePadding": 4}}}}
    ]
   },
   {
    "width": 291, "height": 214,
    "title": "cifar10",
    "data": {"name": "d"},
    "transform": [{"filter": "datum.p == 'c10'"}],
    "resolve": {"axis": {"x": "independent"}, "legend": {"color": "independent"}},
    "layer": [
     {"mark": {"type": "area", "opacity": 0.25},
      "encoding": {
       "x": {"field": "x", "type": "quantitative", "scale": {"domain": [0, 0.991], "nice": false, "zero": false}, "axis": null},
       "y": {"field": "l2", "type": "quantitative", "stack": null, "scale": {"domain": [-2.11, 0.54], "nice": false, "zero": false}, "axis": {"title": null, "values": [-2, -1.5, -1, -0.5, 0, 0.5], "format": ".1f"}},
       "y2": {"field": "h2"},
       "color": {"field": "a", "type": "nominal", "scale": {"domain": ["ppo", "a2c", "acktr"], "range": ["#167a16", "#c0302e", "#1a1af2"]}, "legend": null}}},
     {"mark": {"type": "area", "opacity": 0.25},
      "encoding": {
       "x": {"field": "x", "type": "quantitative", "axis": null},
       "y": {"field": "l1", "type": "quantitative", "stack": null, "axis": {"title": null, "values": [-2, -1.5, -1, -0.5, 0, 0.5], "format": ".1f"}},
       "y2": {"field": "h1"},
       "color": {"field": "a", "type": "nominal", "legend": null}}},
     {"mark": {"type": "line", "strokeWidth": 1.3},
      "encoding": {
       "x": {"field": "x", "type": "quantitative", "axis": {"title": "Time Steps", "values": [0, 0.2, 0.4, 0.6, 0.8], "format": ".1f", "titleY": 28, "titleBaseline": "alphabetic"}},
       "y": {"field": "y", "type": "quantitative", "axis": {"title": null, "values": [-2, -1.5, -1, -0.5, 0, 0.5], "format": ".1f"}},
       "color": {"field": "a", "type": "nominal", "legend": {"orient": "none", "legendX": 200, "legendY": 76}}}},
     {"mark": {"type": "line", "strokeOpacity": 0},
      "encoding": {
       "x": {"field": "x", "type": "quantitative", "axis": {"orient": "bottom", "title": "1e7", "labels": false, "grid": false, "titleX": 291, "titleY": 28, "titleAlign": "right", "titleBaseline": "alphabetic"}},
       "y": {"field": "y", "type": "quantitative", "axis": {"title": null, "values": [-2, -1.5, -1, -0.5, 0, 0.5], "format": ".1f"}}}}
    ]
   },
 {
  "width": 297, "height": 214,
  "title": "cifar100",
  "data": {"name": "d"},
  "transform": [{"filter": "datum.p == 'c100'"}],
  "resolve": {"axis": {"x": "independent"}, "legend": {"color": "independent"}},
  "layer": [
   {"mark": {"type": "area", "opacity": 0.25},
    "encoding": {
     "x": {"field": "x", "type": "quantitative", "scale": {"domain": [0, 0.991], "nice": false, "zero": false}, "axis": null},
     "y": {"field": "l2", "type": "quantitative", "stack": null, "scale": {"domain": [-2.01, -1.763], "nice": false, "zero": false}, "axis": {"title": null, "values": [-2, -1.95, -1.9, -1.85, -1.8], "format": ".2f"}},
     "y2": {"field": "h2"},
     "color": {"field": "a", "type": "nominal", "scale": {"domain": ["ppo", "a2c", "acktr"], "range": ["#167a16", "#c0302e", "#1a1af2"]}, "legend": null}}},
   {"mark": {"type": "area", "opacity": 0.25},
    "encoding": {
     "x": {"field": "x", "type": "quantitative", "axis": null},
     "y": {"field": "l1", "type": "quantitative", "stack": null, "axis": {"title": null, "values": [-2, -1.95, -1.9, -1.85, -1.8], "format": ".2f"}},
     "y2": {"field": "h1"},
     "color": {"field": "a", "type": "nominal", "legend": null}}},
   {"mark": {"type": "line", "strokeWidth": 1.3},
    "encoding": {
     "x": {"field": "x", "type": "quantitative", "axis": {"title": "Time Steps", "values": [0, 0.2, 0.4, 0.6, 0.8], "format": ".1f", "titleY": 28, "titleBaseline": "alphabetic"}},
     "y": {"field": "y", "type": "quantitative", "axis": {"title": null, "values": [-2, -1.95, -1.9, -1.85, -1.8], "format": ".2f"}},
     "color": {"field": "a", "type": "nominal", "legend": {"orient": "none", "legendX": 206, "legendY": 5}}}},
   {"mark": {"type": "line", "strokeOpacity": 0},
    "encoding": {
     "x": {"field": "x", "type": "quantitative", "axis": {"orient": "bottom", "title": "1e7", "labels": false, "grid": false, "titleX": 297, "titleY": 28, "titleAlign": "right", "titleBaseline": "alphabetic"}},
     "y": {"field": "y", "type": "quantitative", "axis": {"title": null, "values": [-2, -1.95, -1.9, -1.85, -1.8], "format": ".2f"}}}}
  ]
 }
]
}
